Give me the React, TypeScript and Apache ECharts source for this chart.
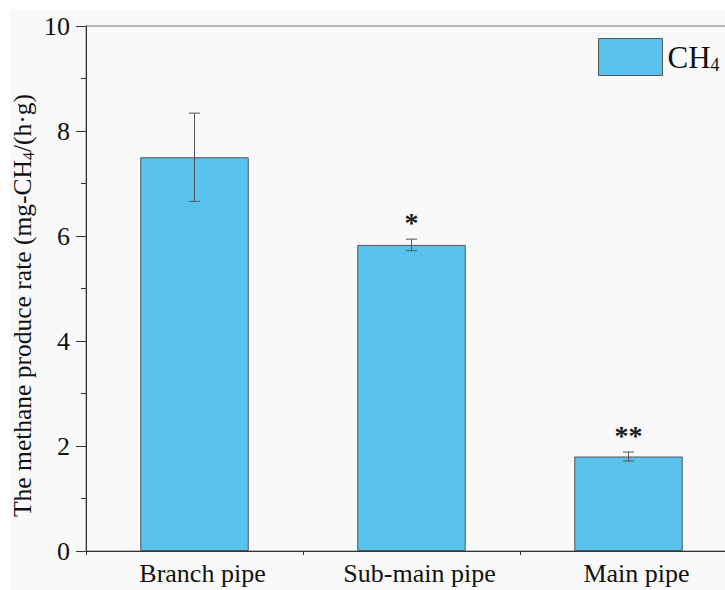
import React, { useEffect, useRef } from "react";
import * as echarts from "echarts";

// Methane production rate per pipe section
const categories = ["Branch pipe", "Sub-main pipe", "Main pipe"];
const rates = [7.5, 5.83, 1.8];
const errors = [0.84, 0.11, 0.085];
const significance = ["", "*", "**"];

const yMin = 0;
const yMax = 10;
const yInterval = 2;

const FONT = "'Liberation Serif', 'Times New Roman', serif";
const BAR_COLOR = "#58c2ec";
const EDGE_COLOR = "#555555";

export default function App() {
  const ref = useRef<HTMLDivElement>(null);

  useEffect(() => {
    if (!ref.current) return;
    const chart = echarts.init(ref.current, undefined, { renderer: "svg" });

    const errData = rates.map((v, i) => [i, v - errors[i], v + errors[i]]);

    chart.setOption({
      animation: false,
      backgroundColor: "#f9f9f9",
      textStyle: { fontFamily: FONT, color: "#111" },
      grid: {
        left: 76,
        top: 16,
        width: 651,
        height: 525,
        outerBoundsMode: "none",
        containLabel: false,
        show: true,
        borderColor: "#777",
        borderWidth: 1,
        backgroundColor: "transparent",
      },
      legend: {
        left: 588,
        top: 28,
        padding: 0,
        itemWidth: 64,
        itemHeight: 37,
        itemGap: 6,
        icon: "rect",
        itemStyle: { color: BAR_COLOR, borderColor: EDGE_COLOR, borderWidth: 1 },
        data: ["CH4"],
        formatter: () => "CH{sub|4}",
        textStyle: {
          fontFamily: FONT,
          fontSize: 31,
          color: "#111",
          lineHeight: 34,
          rich: {
            sub: { fontFamily: FONT, fontSize: 18, verticalAlign: "bottom", lineHeight: 8 },
          },
        },
      },
      xAxis: [
        {
          type: "category",
          data: categories,
          axisLine: { lineStyle: { color: "#333", width: 1 } },
          axisTick: { alignWithLabel: true, length: 10, lineStyle: { color: "#333" } },
          axisLabel: {
            fontFamily: FONT,
            fontSize: 26,
            color: "#111",
            margin: 9,
            padding: [0, 0, 0, 16],
          },
        },
        {
          // short ticks on the category boundaries
          type: "category",
          data: categories,
          position: "bottom",
          axisLine: { show: false },
          axisTick: { show: true, alignWithLabel: false, length: 4, lineStyle: { color: "#333" } },
          axisLabel: { show: false },
          splitLine: { show: false },
        },
      ],
      yAxis: {
        type: "value",
        min: yMin,
        max: yMax,
        interval: yInterval,
        splitLine: { show: false },
        axisLine: { show: true, lineStyle: { color: "#333", width: 1 } },
        axisTick: { show: true, inside: false, length: 10, lineStyle: { color: "#333" } },
        minorTick: { show: true, splitNumber: 2, length: 5, lineStyle: { color: "#333" } },
        axisLabel: { fontFamily: FONT, fontSize: 26, color: "#111", margin: 16 },
        name: "The methane produce rate (mg-CH{sub|4}/(h·g)",
        nameLocation: "middle",
        nameGap: 50,
        nameMoveOverlap: false,
        nameTextStyle: {
          fontFamily: FONT,
          fontSize: 25.5,
          color: "#111",
          lineHeight: 28,
          padding: [0, 34, 0, 0],
          rich: {
            sub: { fontFamily: FONT, fontSize: 16, verticalAlign: "bottom", lineHeight: 8 },
          },
        },
      },
      series: [
        {
          name: "CH4",
          type: "bar",
          data: rates,
          barWidth: "50%",
          itemStyle: { color: BAR_COLOR, borderColor: EDGE_COLOR, borderWidth: 1 },
        },
        {
          name: "error",
          type: "custom",
          data: errData,
          encode: { x: 0, y: [1, 2] },
          z: 5,
          renderItem: (params: any, api: any) => {
            const x = api.value(0);
            const lo = api.coord([x, api.value(1)]);
            const hi = api.coord([x, api.value(2)]);
            const w = 5.5;
            const style = { stroke: EDGE_COLOR, lineWidth: 1 };
            return {
              type: "group",
              children: [
                { type: "line", shape: { x1: lo[0], y1: lo[1], x2: hi[0], y2: hi[1] }, style },
                { type: "line", shape: { x1: hi[0] - w, y1: hi[1], x2: hi[0] + w, y2: hi[1] }, style },
                { type: "line", shape: { x1: lo[0] - w, y1: lo[1], x2: lo[0] + w, y2: lo[1] }, style },
              ],
            };
          },
        },
        {
          name: "significance",
          type: "custom",
          data: errData,
          encode: { x: 0, y: 2 },
          z: 6,
          renderItem: (params: any, api: any) => {
            const x = api.value(0);
            const hi = api.coord([x, api.value(2)]);
            return {
              type: "text",
              x: hi[0],
              y: hi[1] - 3,
              style: {
                text: significance[params.dataIndex],
                fontFamily: FONT,
                fontSize: 28,
                fontWeight: "bold",
                fill: "#1a1a1a",
                align: "center",
                verticalAlign: "bottom",
              },
            };
          },
        },
      ],
    });

    return () => chart.dispose();
  }, []);

  return (
    <div
      style={{
        position: "fixed",
        left: 0,
        top: 0,
        width: 725,
        height: 590,
        background: "#ffffff",
        overflow: "hidden",
      }}
    >
      <div ref={ref} style={{ position: "absolute", left: 10, top: 10, width: 760, height: 580 }} />
    </div>
  );
}
